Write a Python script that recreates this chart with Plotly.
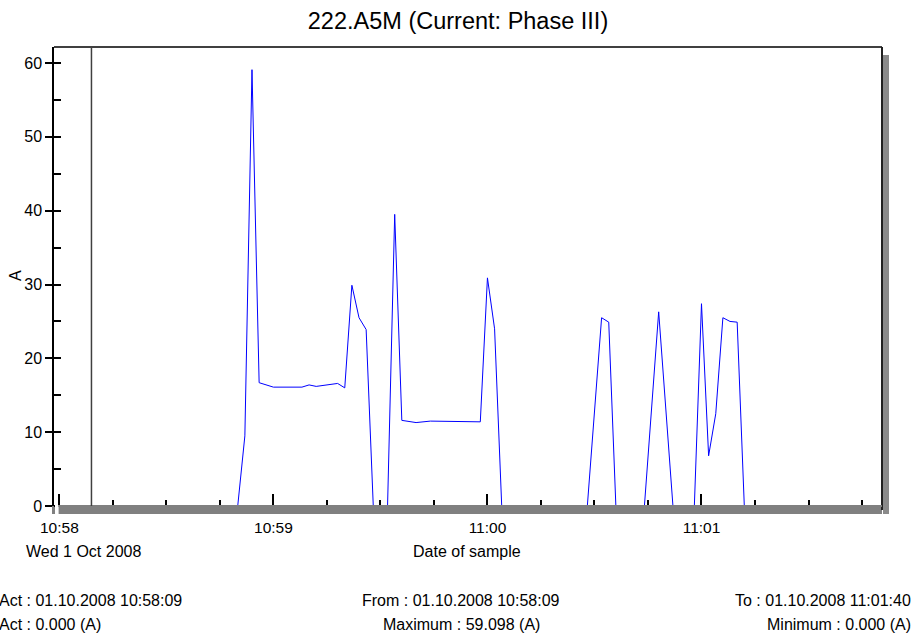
import plotly.graph_objects as go

# ---- data ----
date = "2008-10-01"
sample_times = [
    "10:58:09", "10:58:50", "10:58:52", "10:58:54", "10:58:56", "10:59:00",
    "10:59:08", "10:59:10", "10:59:12", "10:59:16", "10:59:18", "10:59:20",
    "10:59:22", "10:59:24", "10:59:26", "10:59:28", "10:59:32", "10:59:34",
    "10:59:36", "10:59:40", "10:59:42", "10:59:44", "10:59:58", "11:00:00",
    "11:00:02", "11:00:04", "11:00:28", "11:00:32", "11:00:34", "11:00:36",
    "11:00:44", "11:00:48", "11:00:52", "11:00:58", "11:01:00", "11:01:02",
    "11:01:04", "11:01:06", "11:01:08", "11:01:10", "11:01:12", "11:01:40",
]
current_a = [
    0.0, 0.0, 9.5, 59.098, 16.7, 16.1,
    16.1, 16.4, 16.2, 16.5, 16.6, 16.0,
    29.9, 25.5, 23.9, 0.0, 0.0, 39.5,
    11.6, 11.3, 11.4, 11.5, 11.4, 30.9,
    24.0, 0.0, 0.0, 25.5, 24.9, 0.0,
    0.0, 26.3, 0.0, 0.0, 27.4, 6.8,
    12.5, 25.5, 25.0, 24.9, 0.0, 0.0,
]
title_text = "222.A5M (Current: Phase III)"
cursor_time = "10:58:09"
x_range = ["10:57:58.5", "11:01:50.6"]
y_range = [0, 62.17]
x_axis_title = "Date of sample"
y_axis_title = "A"
date_label = "Wed 1 Oct 2008"
footer_left = ["Act : 01.10.2008 10:58:09", "Act : 0.000 (A)"]
footer_mid = ["From : 01.10.2008 10:58:09", "Maximum : 59.098 (A)"]
footer_right = ["To : 01.10.2008 11:01:40", "Minimum : 0.000 (A)"]

FONT = "Liberation Sans, Arial, sans-serif"

xs = [f"{date} {t}" for t in sample_times]

fig = go.Figure()
fig.add_trace(go.Scatter(
    x=xs, y=current_a, mode="lines",
    line=dict(color="#0000FF", width=1),
    showlegend=False, hoverinfo="x+y",
))

# plot-area pixel box
L, R, T, B = 54, 882, 47, 506

fig.update_layout(
    width=916, height=637, autosize=False,
    margin=dict(l=L, r=916 - R, t=T, b=637 - B),
    paper_bgcolor="white", plot_bgcolor="white",
    font=dict(family=FONT, color="black", size=15),
    title=dict(text=title_text, x=0.5, xanchor="center", y=1 - 21 / 637, yanchor="middle",
               font=dict(family=FONT, size=23.5, color="black")),
)

fig.update_xaxes(
    type="date",
    range=[f"{date} {x_range[0]}", f"{date} {x_range[1]}"],
    showline=True, linecolor="#808080", linewidth=8,
    ticks="inside", ticklen=12, tickwidth=1.5, tickcolor="black",
    tick0=f"{date} 10:58:00", dtick=60000, tickformat="%H:%M",
    minor=dict(dtick=15000, ticks="inside", ticklen=6, tickwidth=1.5, tickcolor="black", showgrid=False),
    showgrid=False, zeroline=False,
    tickfont=dict(family=FONT, size=15.5),
)
fig.update_yaxes(
    range=y_range,
    showline=True, linecolor="black", linewidth=1.5,
    ticks="outside", ticklen=7, tickwidth=1.5, tickcolor="black",
    tick0=0, dtick=10,
    minor=dict(dtick=5, ticks="inside", ticklen=7, tickwidth=1.5, tickcolor="black", showgrid=False),
    showgrid=False, zeroline=False,
    tickfont=dict(family=FONT, size=16),
)

def px(x):
    return (x - L) / (R - L)
def py(y):
    return (B - y) / (B - T)

shapes = [
    dict(type="line", xref="paper", yref="paper", x0=0, x1=1, y0=1, y1=1,
         line=dict(color="#404040", width=2)),
    dict(type="line", xref="paper", yref="paper", x0=1, x1=1, y0=py(510), y1=1,
         line=dict(color="#202020", width=2)),
    dict(type="rect", xref="paper", yref="paper", x0=px(883), x1=px(889), y0=py(514), y1=py(55),
         fillcolor="#8a8a8a", line=dict(width=0)),
    # thin strip so the zero-level trace merges into the axis bar
    dict(type="rect", xref="paper", yref="paper", x0=px(59), x1=px(882), y0=py(507), y1=py(505),
         fillcolor="#808080", line=dict(width=0), layer="above"),
    # axis bar starts at 10:58, not at the y axis
    dict(type="rect", xref="paper", yref="paper", x0=px(55), x1=px(58.6), y0=py(515), y1=py(505),
         fillcolor="white", line=dict(width=0), layer="above"),
    dict(type="line", xref="x", yref="paper", x0=f"{date} {cursor_time}", x1=f"{date} {cursor_time}",
         y0=0, y1=1, line=dict(color="#404040", width=1.5)),
]
fig.update_layout(shapes=shapes)

ann = []
ann.append(dict(text=y_axis_title, xref="paper", yref="paper", x=px(15), y=py(276),
                showarrow=False, textangle=-90, xanchor="center", yanchor="middle",
                font=dict(family=FONT, size=16)))
ann.append(dict(text=x_axis_title, xref="paper", yref="paper", x=px(467), y=py(551),
                showarrow=False, xanchor="center", yanchor="middle", font=dict(family=FONT, size=16)))
ann.append(dict(text=date_label, xref="paper", yref="paper", x=px(24), y=py(551),
                showarrow=False, xanchor="left", yanchor="middle", font=dict(family=FONT, size=16)))
for i, ypix in enumerate([600, 624]):
    ann.append(dict(text=footer_left[i], xref="paper", yref="paper", x=px(-3), y=py(ypix),
                    showarrow=False, xanchor="left", yanchor="middle", font=dict(family=FONT, size=16)))
    ann.append(dict(text=footer_mid[i], xref="paper", yref="paper", x=px(461), y=py(ypix),
                    showarrow=False, xanchor="center", yanchor="middle", font=dict(family=FONT, size=16)))
    ann.append(dict(text=footer_right[i], xref="paper", yref="paper", x=px(913), y=py(ypix),
                    showarrow=False, xanchor="right", yanchor="middle", font=dict(family=FONT, size=16)))
fig.update_layout(annotations=ann)

fig.write_html(
    "out.html",
    config={"displayModeBar": False},
    post_script="document.body.style.margin='0';document.body.style.overflow='hidden';",
)
